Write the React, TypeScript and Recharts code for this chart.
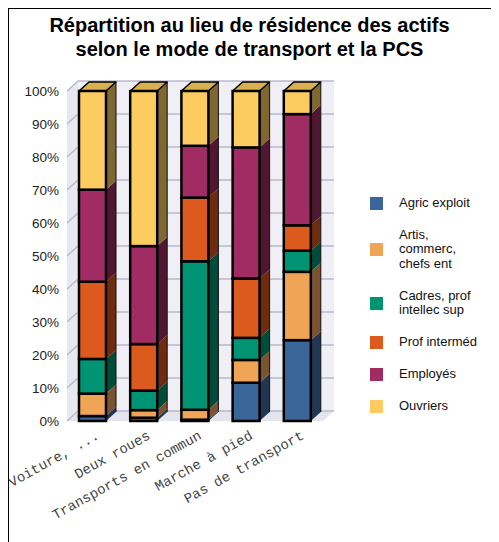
import { Bar, BarChart, ReferenceArea, XAxis, YAxis } from 'recharts'

const CATEGORIES = ['Voiture, ...', 'Deux roues', 'Transports en commun', 'Marche à pied', 'Pas de transport']
const SERIES_KEYS = ['agric', 'artis', 'cadres', 'prof', 'employes', 'ouvriers']
const SERIES_NAMES = ['Agric exploit', 'Artis, commerc, chefs ent', 'Cadres, prof intellec sup', 'Prof interméd', 'Employés', 'Ouvriers']
const AGRIC = [1.5, 1, 0.4, 11.6, 24.5]
const ARTIS = [6.8, 2.3, 3, 6.9, 20.7]
const CADRES = [10.5, 5.9, 45, 6.7, 6.4]
const PROF = [23.4, 14.1, 19.3, 18, 7.7]
const EMPLOYES = [27.9, 29.7, 15.7, 39.7, 33.7]
const OUVRIERS = [29.9, 47, 16.6, 17.1, 7]
const Y_TICKS = [0, 10, 20, 30, 40, 50, 60, 70, 80, 90, 100]

const FRONT = ['#3b6699', '#f0a455', '#009475', '#dd5a1e', '#a12c63', '#fdcc60']
const SIDE = ['#203652', '#7b5330', '#004c3a', '#6e2c0f', '#501632', '#7f6731']
const TOP = ['#2f5380', '#c8884a', '#007a60', '#b84a18', '#862452', '#d9b04f']

const VALUES = [AGRIC, ARTIS, CADRES, PROF, EMPLOYES, OUVRIERS]
const data = CATEGORIES.map((name, i) => {
  const row: Record<string, string | number> = { name }
  SERIES_KEYS.forEach((k, s) => (row[k] = VALUES[s][i]))
  return row
})

const DX = 10
const DY = 9

function Prism(props: any) {
  const { x, y, width: w, height: h, fill, side, top, isTop } = props
  if (h == null || w == null) return null
  return (
    <g>
      <polygon points={`${x + w},${y + h} ${x + w + DX},${y + h - DY} ${x + w + DX},${y - DY} ${x + w},${y}`} fill={side} />
      <line x1={x + w + DX} y1={y - DY} x2={x + w + DX} y2={y + h - DY} stroke="#111" strokeWidth={1} />
      {isTop && (
        <polygon points={`${x},${y} ${x + DX},${y - DY} ${x + w + DX},${y - DY} ${x + w},${y}`} fill={top} stroke="#000" strokeWidth={1.5} strokeLinejoin="round" />
      )}
      <rect x={x} y={y} width={w} height={h} fill={fill} stroke="#000" strokeWidth={2.5} />
    </g>
  )
}

function Wall(props: any) {
  const { x, y, width: w, height: h } = props
  const wx = 11
  const wy = 10
  const lines = Y_TICKS.map((t) => y + h - (h * t) / 100)
  return (
    <g>
      <polygon points={`${x},${y + h} ${x + wx},${y + h - wy} ${x + wx},${y - wy} ${x},${y}`} fill="#e8e8f0" />
      <rect x={x + wx} y={y - wy} width={w} height={h} fill="#efeff5" />
      <polygon points={`${x},${y + h} ${x + w},${y + h} ${x + w + wx},${y + h - wy} ${x + wx},${y + h - wy}`} fill="#e4e4ec" />
      {lines.map((ly, i) => (
        <g key={i}>
          <line x1={x} y1={ly} x2={x + wx} y2={ly - wy} stroke="#b9b9cd" strokeWidth={1.5} />
          <line x1={x + wx} y1={ly - wy} x2={x + w + wx} y2={ly - wy} stroke="#b9b9cd" strokeWidth={1.5} />
        </g>
      ))}
    </g>
  )
}

function XTick({ x, y, payload }: any) {
  const ax = x + 5
  const ay = y + 5
  return (
    <text
      x={ax}
      y={ay}
      dy="0.35em"
      textAnchor="end"
      transform={`rotate(-29, ${ax}, ${ay})`}
      fontFamily="'Liberation Mono', 'Courier New', monospace"
      fontSize={14}
      fill="#444"
    >
      {payload.value}
    </text>
  )
}

function LegendBox() {
  return (
    <div
      style={{
        position: 'absolute',
        left: 361,
        top: 186.75,
        display: 'flex',
        flexDirection: 'column',
        gap: 17.5,
        fontFamily: "'Liberation Sans', Arial, sans-serif",
        fontSize: 13,
        lineHeight: '14.5px',
        color: '#111',
      }}
    >
      {SERIES_NAMES.map((n, i) => (
        <div key={n} style={{ display: 'flex', alignItems: 'center' }}>
          <div style={{ width: 13, height: 13, background: FRONT[i], marginRight: 16, flexShrink: 0 }} />
          <div style={{ width: 82 }}>{n}</div>
        </div>
      ))}
    </div>
  )
}

export default function App() {
  return (
    <div style={{ position: 'relative', width: 490, height: 533, borderTop: '1px solid #000', borderLeft: '1px solid #000' }}>
      <div style={{ position: 'absolute', top: -8, left: -9, width: 499, height: 1, background: '#000' }} />
      <div
        style={{
          position: 'absolute',
          top: 4,
          left: 0,
          width: 481,
          textAlign: 'center',
          fontFamily: "'Liberation Sans', Arial, sans-serif",
          fontWeight: 'bold',
          fontSize: 20,
          lineHeight: '24px',
          color: '#000',
        }}
      >
        Répartition au lieu de résidence des actifs
        <br />
        selon le mode de transport et la PCS
      </div>
      <BarChart width={490} height={533} data={data} margin={{ top: 82, right: 176, bottom: 0, left: 0 }} barSize={27}>
        <XAxis dataKey="name" interval={0} tick={<XTick />} axisLine={false} tickLine={false} height={121} />
        <YAxis
          domain={[0, 100]}
          ticks={Y_TICKS}
          tickFormatter={(v) => `${v}%`}
          axisLine={false}
          tickLine={false}
          width={58}
          tick={{ fontFamily: "'Liberation Sans', Arial, sans-serif", fontSize: 13.5, fill: '#222' }}
        />
        <ReferenceArea y1={0} y2={100} shape={(p: any) => <Wall {...p} />} />
        {SERIES_KEYS.map((k, i) => (
          <Bar
            key={k}
            dataKey={k}
            name={SERIES_NAMES[i]}
            stackId="a"
            fill={FRONT[i]}
            isAnimationActive={false}
            shape={(p: any) => <Prism {...p} side={SIDE[i]} top={TOP[i]} isTop={i === SERIES_KEYS.length - 1} />}
          />
        ))}
      </BarChart>
      <LegendBox />
    </div>
  )
}
